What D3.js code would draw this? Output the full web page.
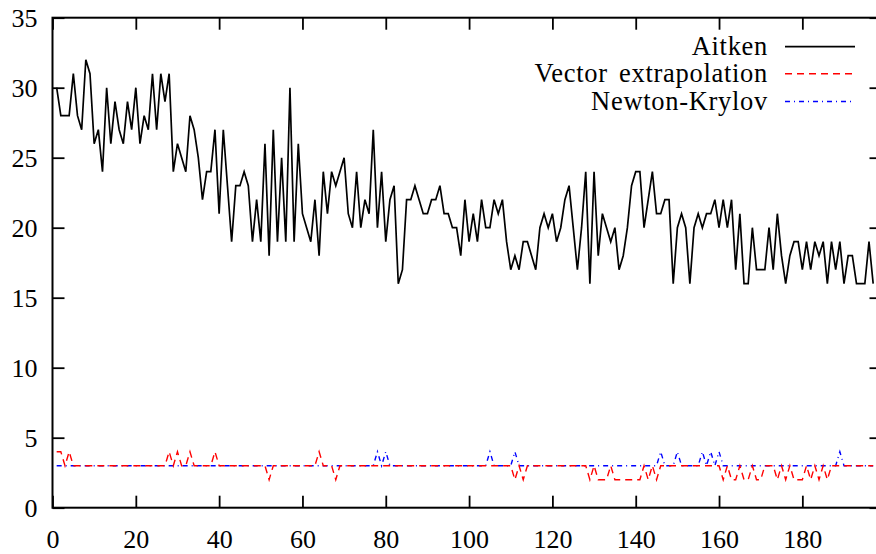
<!DOCTYPE html>
<html>
<head>
<meta charset="utf-8">
<script src="https://cdn.jsdelivr.net/npm/d3@7/dist/d3.min.js"></script>
<style>
  html, body { margin: 0; padding: 0; background: #fff; }
  svg { display: block; }
  text { font-family: "Liberation Serif", "DejaVu Serif", serif; fill: #000; }
</style>
</head>
<body>
<svg id="chart" width="876" height="554"></svg>
<script>
// Iteration counts per time step (steps 1..197)
const aitken = [
  30,28,28,28,31,28,27,32,31,26,
  27,24,30,26,29,27,26,29,27,30,
  26,28,27,31,27,31,29,31,24,26,
  25,24,28,27,25,22,24,24,27,21,
  27,23,19,23,23,24,23,19,22,19,
  26,18,27,19,25,19,30,19,26,21,
  20,19,22,18,24,21,24,23,24,25,
  21,20,24,20,22,21,27,20,24,19,
  22,23,16,17,22,22,23,22,21,21,
  22,22,23,21,21,20,20,18,22,19,
  21,19,22,20,20,22,21,22,19,17,
  18,17,19,19,18,17,20,21,20,21,
  19,20,22,23,20,17,20,24,16,24,
  18,21,20,19,20,17,18,20,23,24,
  24,20,22,24,21,21,22,22,16,20,
  21,20,16,20,21,20,21,21,22,20,
  22,20,22,17,21,16,16,20,17,17,
  17,20,17,21,18,16,18,19,19,17,
  19,17,19,18,19,16,19,17,19,16,
  18,18,16,16,16,19,16
];
const vectorExtrapolation = [
  4,4,3,4,3,3,3,3,3,3,
  3,3,3,3,3,3,3,3,3,3,
  3,3,3,3,3,3,3,4,3,4,
  3,3,4,3,3,3,3,3,4,3,
  3,3,3,3,3,3,3,3,3,3,
  3,2,3,3,3,3,3,3,3,3,
  3,3,3,4,3,3,3,2,3,3,
  3,3,3,3,3,3,3,3,3,3,
  3,3,3,3,3,3,3,3,3,3,
  3,3,3,3,3,3,3,3,3,3,
  3,3,3,3,3,3,3,3,3,3,
  2,3,2,3,3,3,3,3,3,3,
  3,3,3,3,3,3,3,3,2,3,
  2,2,2,3,2,2,2,2,2,2,
  2,3,2,3,2,3,3,3,3,3,
  3,3,3,3,3,3,3,3,3,3,
  2,3,2,2,3,2,2,3,2,2,
  3,3,3,2,3,2,3,2,2,2,
  3,2,3,2,3,2,3,3,3,3,
  3,3,3,3,3,3,3
];
const newtonKrylov = [
  3,3,3,3,3,3,3,3,3,3,
  3,3,3,3,3,3,3,3,3,3,
  3,3,3,3,3,3,3,3,3,3,
  3,3,3,3,3,3,3,3,3,3,
  3,3,3,3,3,3,3,3,3,3,
  3,3,3,3,3,3,3,3,3,3,
  3,3,3,3,3,3,3,3,3,3,
  3,3,3,3,3,3,3,4,3,4,
  3,3,3,3,3,3,3,3,3,3,
  3,3,3,3,3,3,3,3,3,3,
  3,3,3,3,4,3,3,3,3,3,
  4,3,3,3,3,3,3,3,3,3,
  3,3,3,3,3,3,3,3,3,3,
  3,3,3,3,3,3,3,3,3,3,
  3,3,3,3,3,4,3,3,3,4,
  3,3,3,3,3,4,3,4,3,4,
  3,3,3,3,3,3,3,3,3,3,
  3,3,3,3,3,3,3,3,3,3,
  3,3,3,3,3,3,3,3,4,3,
  3,3,3,3,3,3,3
];
const xTicks = [0, 20, 40, 60, 80, 100, 120, 140, 160, 180];
const yTicks = [0, 5, 10, 15, 20, 25, 30, 35];
const seriesNames = ["Aitken", "Vector extrapolation", "Newton-Krylov"];

(function draw() {
  const svg = d3.select("#chart");
  const m = { left: 52.5, right: 881.5, top: 17.7, bottom: 507.7 };

  const x = d3.scaleLinear().domain([0, 199]).range([m.left, m.right]);
  const y = d3.scaleLinear().domain([0, 35]).range([m.bottom, m.top]);

  svg.append("defs").append("clipPath").attr("id", "plotclip")
    .append("rect").attr("x", m.left).attr("y", m.top)
    .attr("width", m.right - m.left).attr("height", m.bottom - m.top);

  // Axes: ticks point inward on all four sides
  const axB = svg.append("g").attr("transform", `translate(0,${m.bottom})`)
    .call(d3.axisBottom(x).tickValues(xTicks).tickSizeInner(-12).tickSizeOuter(0).tickPadding(22));
  const axT = svg.append("g").attr("transform", `translate(0,${m.top})`)
    .call(d3.axisTop(x).tickValues(xTicks).tickSizeInner(-12).tickSizeOuter(0).tickFormat(""));
  const axL = svg.append("g").attr("transform", `translate(${m.left},0)`)
    .call(d3.axisLeft(y).tickValues(yTicks).tickSizeInner(-12).tickSizeOuter(0).tickPadding(15));
  const axR = svg.append("g").attr("transform", `translate(${m.right},0)`)
    .call(d3.axisRight(y).tickValues(yTicks).tickSizeInner(-12).tickSizeOuter(0).tickFormat(""));

  [axB, axT, axL, axR].forEach(g => {
    g.select(".domain").remove();
    g.selectAll(".tick line").attr("stroke", "#000").attr("stroke-width", 1.8);
    g.selectAll(".tick text")
      .style("font-family", '"Liberation Serif", "DejaVu Serif", serif')
      .style("font-size", "26px").attr("fill", "#000");
  });

  svg.append("rect").attr("x", m.left).attr("y", m.top)
    .attr("width", m.right - m.left).attr("height", m.bottom - m.top)
    .attr("fill", "none").attr("stroke", "#000").attr("stroke-width", 2);

  const line = d3.line().x((d, i) => x(i + 1)).y(d => y(d));
  const plot = svg.append("g").attr("clip-path", "url(#plotclip)");

  const styles = [
    { data: aitken, color: "#000", width: 1.7, dash: null },
    { data: vectorExtrapolation, color: "#ff0000", width: 1.4, dash: "7,5" },
    { data: newtonKrylov, color: "#0000ff", width: 1.4, dash: "5,4,1,4" }
  ];

  // Draw in reverse so the solid line stays on top
  styles.slice().reverse().forEach(s => {
    plot.append("path").datum(s.data)
      .attr("d", line)
      .attr("fill", "none")
      .attr("stroke", s.color)
      .attr("stroke-width", s.width)
      .attr("stroke-linejoin", "miter")
      .attr("stroke-dasharray", s.dash);
  });

  // Legend
  const legend = svg.append("g");
  const rowY = [46.7, 73.7, 101.5];
  seriesNames.forEach((name, i) => {
    legend.append("text")
      .attr("x", 768).attr("y", rowY[i] + 8.5)
      .attr("text-anchor", "end")
      .style("font-size", "26.5px")
      .style("letter-spacing", "0.7px")
      .style("word-spacing", "4px")
      .text(name);
    legend.append("line")
      .attr("x1", 785).attr("x2", 855)
      .attr("y1", rowY[i]).attr("y2", rowY[i])
      .attr("stroke", styles[i].color)
      .attr("stroke-width", styles[i].width)
      .attr("stroke-dasharray", styles[i].dash);
  });
})();
</script>
</body>
</html>
